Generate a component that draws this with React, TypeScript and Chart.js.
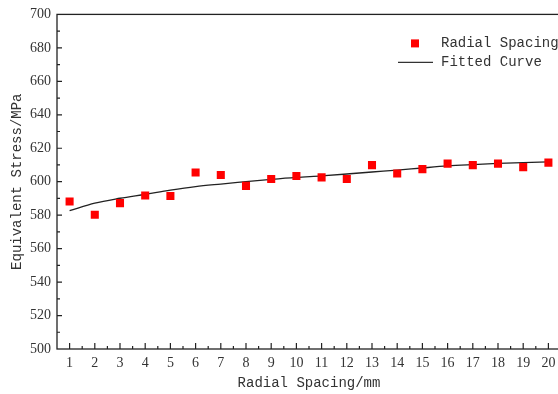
import { useEffect, useRef } from "react";
import { Chart, registerables } from "chart.js";

Chart.register(...registerables);

// Radial spacing (mm) and the equivalent stress obtained at each spacing
const spacingMm = [1, 2, 3, 4, 5, 6, 7, 8, 9, 10, 11, 12, 13, 14, 15, 16, 17, 18, 19, 20];
const stressMPa = [
  588.2, 580.3, 587.2, 591.7, 591.5, 605.5, 604.0, 597.5, 601.6, 603.4,
  602.6, 601.6, 609.9, 604.9, 607.5, 610.8, 609.9, 610.8, 608.7, 611.4,
];
// Fitted curve evaluated at the same spacings
const fittedMPa = [
  582.7, 587.2, 590.1, 592.5, 595.0, 597.1, 598.6, 600.0, 601.4, 602.6,
  603.5, 604.6, 605.8, 606.9, 608.2, 609.4, 610.2, 610.9, 611.4, 611.8,
];
const yTickValues = [500, 520, 540, 560, 580, 600, 620, 640, 660, 680, 700];
const xTickValues = spacingMm;

const seriesLabels = ["Radial Spacing", "Fitted Curve"];
const xTitle = "Radial Spacing/mm";
const yTitle = "Equivalent Stress/MPa";

const MONO = '"Liberation Mono", "DejaVu Sans Mono", monospace';
const SERIF = '"Liberation Serif", "DejaVu Serif", serif';
const INK = "#333333";
const AXIS = "#222222";

// Frame around the plot plus inward-pointing major/minor ticks
const framePlugin = {
  id: "frameTicks",
  afterDatasetsDraw(chart: any) {
    const { ctx, chartArea } = chart;
    const { left, right, top, bottom } = chartArea;
    const xs = chart.scales.x;
    const ys = chart.scales.y;
    ctx.save();
    ctx.strokeStyle = AXIS;
    ctx.lineWidth = 1.3;
    ctx.strokeRect(left, top, right - left, bottom - top);
    ctx.lineWidth = 1.2;
    ctx.beginPath();
    for (let v = xs.min; v <= xs.max + 1e-6; v += 0.5) {
      const major = Math.abs(v - Math.round(v)) < 1e-6;
      const px = xs.getPixelForValue(v);
      if (px <= left + 1 || px >= right - 1) continue;
      const len = major ? 6 : 3;
      ctx.moveTo(px, bottom);
      ctx.lineTo(px, bottom - len);
    }
    for (let v = ys.min; v <= ys.max + 1e-6; v += 10) {
      const major = v % 20 === 0;
      const py = ys.getPixelForValue(v);
      if (py <= top + 1 || py >= bottom - 1) continue;
      const len = major ? 5 : 3;
      ctx.moveTo(left, py);
      ctx.lineTo(left + len, py);
    }
    ctx.stroke();
    ctx.restore();
  },
};

// Legend drawn inside the plot area, upper right
const legendPlugin = {
  id: "innerLegend",
  afterDraw(chart: any) {
    const { ctx, chartArea } = chart;
    const x0 = chartArea.left + 341;
    const y0 = chartArea.top + 29;
    const rowGap = 19;
    ctx.save();
    ctx.fillStyle = "#ff0000";
    ctx.fillRect(x0 + 17 - 4, y0 - 4, 8, 8);
    ctx.strokeStyle = "#333333";
    ctx.lineWidth = 1.3;
    ctx.beginPath();
    ctx.moveTo(x0, y0 + rowGap);
    ctx.lineTo(x0 + 35, y0 + rowGap);
    ctx.stroke();
    ctx.fillStyle = INK;
    ctx.font = `14px ${MONO}`;
    ctx.textBaseline = "middle";
    ctx.textAlign = "left";
    ctx.fillText(seriesLabels[0], x0 + 43, y0);
    ctx.fillText(seriesLabels[1], x0 + 43, y0 + rowGap);
    ctx.restore();
  },
};

export default function App() {
  const canvasRef = useRef<HTMLCanvasElement | null>(null);

  useEffect(() => {
    const canvas = canvasRef.current;
    if (!canvas) return;
    const chart = new Chart(canvas, {
      type: "scatter",
      data: {
        datasets: [
          {
            label: seriesLabels[1],
            type: "line",
            data: spacingMm.map((x, i) => ({ x, y: fittedMPa[i] })),
            borderColor: "#222222",
            borderWidth: 1.3,
            pointRadius: 0,
            fill: false,
            cubicInterpolationMode: "monotone",
            order: 2,
          },
          {
            label: seriesLabels[0],
            data: spacingMm.map((x, i) => ({ x, y: stressMPa[i] })),
            pointStyle: "rect",
            pointRadius: 5.7,
            pointHoverRadius: 5.7,
            backgroundColor: "#ff0000",
            borderWidth: 0,
            order: 1,
          },
        ],
      },
      options: {
        responsive: false,
        animation: false,
        devicePixelRatio: 1,
        layout: { padding: { top: 11, right: 9, left: 0, bottom: 0 } },
        plugins: {
          legend: { display: false },
          tooltip: { enabled: false },
        },
        scales: {
          x: {
            type: "linear",
            min: 0.5,
            max: 20.5,
            afterBuildTicks: (scale: any) => {
              scale.ticks = xTickValues.map((value) => ({ value }));
            },
            afterFit: (scale: any) => {
              scale.height = 45;
            },
            grid: { display: false, drawTicks: false },
            border: { display: false },
            ticks: {
              color: INK,
              font: { family: SERIF, size: 14 },
              padding: 6,
              autoSkip: false,
              maxRotation: 0,
            },
            title: {
              display: true,
              text: xTitle,
              color: INK,
              font: { family: MONO, size: 14 },
              padding: { top: 0, bottom: 2 },
            },
          },
          y: {
            type: "linear",
            min: 500,
            max: 700,
            afterBuildTicks: (scale: any) => {
              scale.ticks = yTickValues.map((value) => ({ value }));
            },
            afterFit: (scale: any) => {
              scale.width = 57;
            },
            grid: { display: false, drawTicks: false },
            border: { display: false },
            ticks: {
              color: INK,
              font: { family: SERIF, size: 14 },
              padding: 6,
            },
            title: {
              display: true,
              text: yTitle,
              color: INK,
              font: { family: MONO, size: 14 },
              padding: { top: 9, bottom: 0 },
            },
          },
        },
      },
      plugins: [framePlugin, legendPlugin],
    } as any);
    return () => chart.destroy();
  }, []);

  return (
    <div
      style={{
        position: "fixed",
        left: 0,
        top: 0,
        width: 558,
        height: 394,
        overflow: "hidden",
        background: "#ffffff",
      }}
    >
      <canvas ref={canvasRef} width={570} height={394} style={{ display: "block" }} />
    </div>
  );
}
